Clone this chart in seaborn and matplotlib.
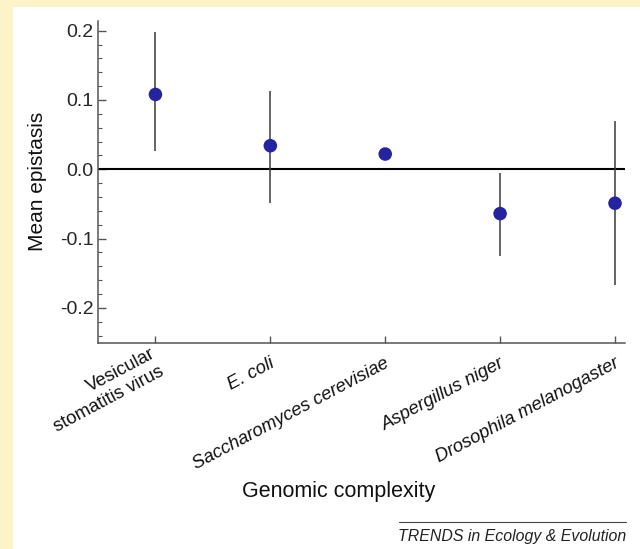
import numpy as np
import pandas as pd
import seaborn as sns
import matplotlib.pyplot as plt
import matplotlib.transforms as mtransforms
from matplotlib.patches import Rectangle
from matplotlib.ticker import MultipleLocator

# Data
species = ['Vesicular\nstomatitis virus', 'E. coli', 'Saccharomyces cerevisiae',
           'Aspergillus niger', 'Drosophila melanogaster']
italic = [False, True, True, True, True]
mean_epistasis = [0.108, 0.034, 0.022, -0.064, -0.049]
err_low = [0.027, -0.048, np.nan, -0.125, -0.167]
err_high = [0.198, 0.113, np.nan, -0.005, 0.070]

df = pd.DataFrame({'species': species, 'mean': mean_epistasis,
                   'low': err_low, 'high': err_high})

sns.set_theme(style='white')
plt.rcParams['font.family'] = ['Liberation Sans', 'DejaVu Sans']

fig = plt.figure(figsize=(6.4, 5.49), dpi=100)
fig.patch.set_facecolor('#fdf3c8')
# white panel inside the yellow frame
fig.patches.append(Rectangle((13 / 640, 0), 1, 1 - 7 / 549, transform=fig.transFigure,
                             facecolor='white', edgecolor='none', zorder=-10))

ax = fig.add_axes([98 / 640, 1 - 342.5 / 549, 527 / 640, 321.5 / 549])
ax.set_facecolor('none')

# error bars and zero line
ax.axhline(0, color='black', lw=1.5, zorder=1)
ax.vlines(df['species'], df['low'], df['high'], color='#3a3a3a', lw=1.1, zorder=2)
sns.scatterplot(data=df, x='species', y='mean', ax=ax, s=95, color='#2424a0',
                edgecolor='none', zorder=3, legend=False)

ax.set_xlim(-0.5, 4.087)
ax.set_ylim(-0.25, 0.214)
ax.yaxis.set_major_locator(MultipleLocator(0.1))
ax.yaxis.set_minor_locator(MultipleLocator(0.02))
ax.set_yticks([-0.2, -0.1, 0.0, 0.1, 0.2])
ax.set_yticklabels(['-0.2', '-0.1', '0.0', '0.1', '0.2'])

for side in ['top', 'right']:
    ax.spines[side].set_visible(False)
for side in ['left', 'bottom']:
    ax.spines[side].set_color('#555555')
    ax.spines[side].set_linewidth(1.1)

ax.tick_params(axis='y', which='major', direction='in', length=6, width=1,
               color='#555555', labelsize=14, pad=3, left=True)
ax.tick_params(axis='y', which='minor', direction='in', length=3, width=0.8,
               color='#555555', left=True)
ax.tick_params(axis='x', which='major', direction='in', length=5, width=1,
               color='#555555', labelsize=13.3, pad=14, bottom=True)

ax.set_xticks(range(len(species)))
ax.set_xticklabels(species)
shift = mtransforms.ScaledTranslation(3 / 100, 0, fig.dpi_scale_trans)
for lab, it in zip(ax.get_xticklabels(), italic):
    lab.set_rotation(28)
    lab.set_rotation_mode('anchor')
    lab.set_ha('right')
    lab.set_va('center')
    lab.set_multialignment('right')
    lab.set_color('#111111')
    lab.set_transform(lab.get_transform() + shift)
    if it:
        lab.set_fontstyle('italic')

ax.set_xlabel('')
ax.set_ylabel('Mean epistasis', fontsize=15, color='#111111')
ax.yaxis.set_label_coords(-0.097, 0.5)

fig.text(339 / 640, 1 - 492 / 549, 'Genomic complexity', fontsize=15.5,
         ha='center', va='center', color='#111111')

# journal footer
fig.add_artist(plt.Line2D([399 / 640, 626 / 640], [1 - 522 / 549, 1 - 522 / 549],
                          transform=fig.transFigure, color='#444444', lw=0.8))
fig.text(626 / 640, 1 - 536 / 549, 'TRENDS in Ecology & Evolution', fontsize=11.4,
         style='italic', ha='right', va='center', color='#222222')

fig.savefig('out.png', dpi=100, facecolor=fig.get_facecolor())
